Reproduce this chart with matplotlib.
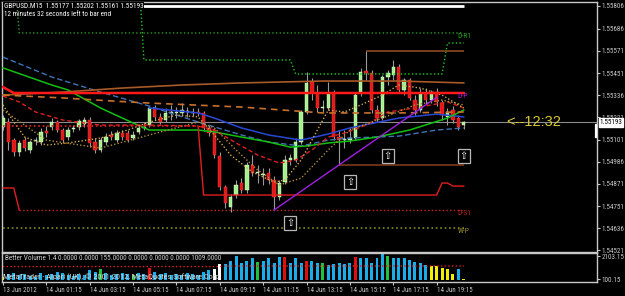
import matplotlib
matplotlib.use("Agg")
import matplotlib.pyplot as plt
from matplotlib import font_manager as fm
from matplotlib.transforms import blended_transform_factory


def pick(names):
    for n in names:
        try:
            fm.findfont(fm.FontProperties(family=n), fallback_to_default=False)
            return n
        except Exception:
            pass
    return 'DejaVu Sans'


NARROW = pick(['Liberation Sans Narrow', 'Roboto Condensed', 'DejaVu Sans Condensed',
               'Open Sans Condensed', 'Liberation Sans', 'DejaVu Sans'])
SANS = pick(['Liberation Sans', 'DejaVu Sans'])

# ---------------- data ----------------
symbol_title = "GBPUSD.M15  1.55177 1.55202 1.55161 1.55193"
timer_text = "12 minutes 32 seconds left to bar end"
volume_header = "Better Volume 1.4 0.0000 0.0000 155.0000 0.0000 0.0000 0.0000 1009.0000"
footer_text = "MetaTrader - Alpari (UK), \u00a9 2001-2012, MetaQuotes Software Corp."

opens = [
    1.55169, 1.55195, 1.55100, 1.55037, 1.55100, 1.55048, 1.55095, 1.55090, 1.55148, 1.55169,
    1.55195, 1.55153, 1.55116, 1.55158, 1.55169, 1.55185, 1.55206, 1.55090, 1.55048, 1.55090,
    1.55127, 1.55100, 1.55137, 1.55137, 1.55111, 1.55143, 1.55164, 1.55179, 1.55269, 1.55222,
    1.55206, 1.55243, 1.55243, 1.55243, 1.55248, 1.55243, 1.55248, 1.55243, 1.55164, 1.55153,
    1.55016, 1.54853, 1.54748, 1.54811, 1.54874, 1.54837, 1.54969, 1.54927, 1.54916, 1.54927,
    1.54890, 1.54800, 1.54879, 1.54995, 1.54995, 1.55090, 1.55248, 1.55406, 1.55348, 1.55269,
    1.55269, 1.55348, 1.55116, 1.55100, 1.55100, 1.55111, 1.55348, 1.55464, 1.55453, 1.55258,
    1.55216, 1.55432, 1.55443, 1.55485, 1.55364, 1.55416, 1.55311, 1.55258, 1.55348, 1.55311,
    1.55353, 1.55295, 1.55222, 1.55258, 1.55216, 1.55177]
closes = [
    1.55216, 1.55090, 1.55037, 1.55085, 1.55058, 1.55090, 1.55100, 1.55143, 1.55137, 1.55195,
    1.55153, 1.55100, 1.55153, 1.55164, 1.55200, 1.55206, 1.55085, 1.55048, 1.55100, 1.55116,
    1.55116, 1.55137, 1.55116, 1.55100, 1.55127, 1.55164, 1.55169, 1.55269, 1.55222, 1.55195,
    1.55243, 1.55248, 1.55248, 1.55258, 1.55253, 1.55248, 1.55243, 1.55164, 1.55137, 1.55021,
    1.54853, 1.54769, 1.54800, 1.54864, 1.54837, 1.54969, 1.54927, 1.54932, 1.54921, 1.54890,
    1.54800, 1.54874, 1.54995, 1.55006, 1.55090, 1.55248, 1.55401, 1.55348, 1.55269, 1.55274,
    1.55348, 1.55116, 1.55100, 1.55106, 1.55111, 1.55337, 1.55458, 1.55453, 1.55258, 1.55216,
    1.55432, 1.55453, 1.55485, 1.55364, 1.55416, 1.55322, 1.55258, 1.55348, 1.55311, 1.55348,
    1.55301, 1.55232, 1.55248, 1.55206, 1.55169, 1.55193]
highs = [
    1.55232, 1.55216, 1.55111, 1.55100, 1.55116, 1.55100, 1.55116, 1.55164, 1.55174, 1.55216,
    1.55206, 1.55164, 1.55169, 1.55179, 1.55211, 1.55222, 1.55222, 1.55111, 1.55116, 1.55137,
    1.55148, 1.55153, 1.55153, 1.55153, 1.55148, 1.55179, 1.55195, 1.55279, 1.55285, 1.55243,
    1.55269, 1.55285, 1.55274, 1.55295, 1.55274, 1.55269, 1.55269, 1.55253, 1.55179, 1.55164,
    1.55037, 1.54864, 1.54816, 1.54890, 1.54900, 1.54985, 1.55021, 1.54969, 1.54953, 1.54953,
    1.54911, 1.54890, 1.55021, 1.55027, 1.55111, 1.55258, 1.55458, 1.55427, 1.55390, 1.55311,
    1.55406, 1.55364, 1.55153, 1.55153, 1.55164, 1.55348, 1.55480, 1.55569, 1.55469, 1.55285,
    1.55443, 1.55469, 1.55522, 1.55501, 1.55427, 1.55427, 1.55337, 1.55374, 1.55374, 1.55364,
    1.55374, 1.55311, 1.55269, 1.55279, 1.55232, 1.55202]
lows = [
    1.55153, 1.55048, 1.55016, 1.55016, 1.55042, 1.55032, 1.55074, 1.55074, 1.55116, 1.55153,
    1.55143, 1.55085, 1.55100, 1.55143, 1.55153, 1.55169, 1.55063, 1.55032, 1.55037, 1.55074,
    1.55100, 1.55090, 1.55100, 1.55090, 1.55100, 1.55132, 1.55153, 1.55169, 1.55206, 1.55185,
    1.55195, 1.55206, 1.55216, 1.55227, 1.55222, 1.55227, 1.55227, 1.55148, 1.55121, 1.55006,
    1.54837, 1.54742, 1.54721, 1.54795, 1.54821, 1.54821, 1.54911, 1.54874, 1.54864, 1.54869,
    1.54732, 1.54784, 1.54869, 1.54969, 1.54985, 1.55079, 1.55237, 1.55311, 1.55248, 1.55248,
    1.55258, 1.55100, 1.54969, 1.55058, 1.55085, 1.55100, 1.55332, 1.55416, 1.55243, 1.55195,
    1.55206, 1.55390, 1.55416, 1.55348, 1.55337, 1.55311, 1.55232, 1.55248, 1.55290, 1.55295,
    1.55279, 1.55206, 1.55179, 1.55190, 1.55153, 1.55161]

volumes = [
    291, 577, 672, 481, 577, 386, 291, 672, 481, 577,
    768, 672, 481, 386, 577, 481, 863, 768, 958, 672,
    481, 577, 672, 577, 481, 672, 577, 1054, 768, 577,
    672, 481, 577, 481, 672, 577, 481, 768, 863, 958,
    1435, 1435, 1722, 2103, 1531, 1722, 1912, 1626, 1722, 1912,
    1531, 2008, 2008, 1531, 1912, 1531, 1722, 1722, 1531, 1531,
    1340, 1435, 1531, 1435, 1531, 2008, 1912, 1912, 1531, 1912,
    2294, 2103, 1912, 1912, 1912, 1817, 1626, 1531, 1340, 1245,
    1245, 1054, 958, 577, 958, 155]
vol_kind = ("YBBBBBBBBB" "BBBBBBBBGB" "BBBBGBBRBB" "BBBBBBBBBW"
            "WBBBBBBGBB" "BBRBBBRBBG" "BBBBBRBBBB" "BGBBBBBBBY"
            "YYYYBY")
vol_avg_bars = [0, 40, 41, 85]
vol_avg_vals = [1200, 1200, 1250, 1250]
vol_ticks = [2103.15, 100.15]

time_tick_bars = [0, 8, 16, 24, 32, 40, 48, 56, 64, 72, 80]
time_tick_labels = ["13 Jun 2012", "14 Jun 01:15", "14 Jun 03:15", "14 Jun 05:15",
                    "14 Jun 07:15", "14 Jun 09:15", "14 Jun 11:15", "14 Jun 13:15",
                    "14 Jun 15:15", "14 Jun 17:15", "14 Jun 19:15"]
price_ticks = [1.55806, 1.55686, 1.55571, 1.55451, 1.55336, 1.55221, 1.55101,
               1.54986, 1.54871, 1.54751, 1.54636, 1.54521]
current_price = 1.55193
spread_bar = (1.55179, 1.55116)
timer_label = "<--12:32"

# moving-average style lines (bar index, price)
blue_dash_b = [0, 9, 18, 27, 36, 44, 49, 55, 60, 64, 73, 80, 85]
blue_dash_v = [1.55537, 1.55432, 1.55353, 1.55279, 1.55195, 1.55127, 1.55090, 1.55069,
               1.55100, 1.55111, 1.55121, 1.55153, 1.55164]
blue_b = [27, 36, 39, 44, 49, 55, 60, 64, 73, 80, 85]
blue_v = [1.55269, 1.55243, 1.55216, 1.55164, 1.55127, 1.55100, 1.55132, 1.55164,
          1.55216, 1.55237, 1.55222]
green_b = [0, 9, 12, 18, 24, 27, 36, 39, 44, 49, 53, 56, 60, 64, 69, 75, 82, 85]
green_v = [1.55480, 1.55390, 1.55364, 1.55269, 1.55190, 1.55153, 1.55153, 1.55143, 1.55116,
           1.55090, 1.55063, 1.55069, 1.55085, 1.55095, 1.55116, 1.55153, 1.55216, 1.55258]
red_dash_b = [0, 3, 6, 11, 18, 27, 36, 39, 43, 47, 51, 54, 57, 60, 63, 67, 71, 76, 82, 85]
red_dash_v = [1.55332, 1.55301, 1.55248, 1.55206, 1.55179, 1.55179, 1.55174, 1.55153, 1.55085,
              1.55021, 1.54979, 1.54995, 1.55048, 1.55116, 1.55137, 1.55179, 1.55248, 1.55269,
              1.55301, 1.55269]
brown_b = [0, 11, 22, 33, 44, 59, 73, 85]
brown_v = [1.55337, 1.55353, 1.55374, 1.55390, 1.55401, 1.55411, 1.55411, 1.55401]
brown_dash_b = [0, 11, 20, 27, 44, 59, 73, 85]
brown_dash_v = [1.55337, 1.55322, 1.55306, 1.55295, 1.55274, 1.55243, 1.55243, 1.55248]
tan1_b = [0, 2, 4, 8, 12, 18, 23, 27, 32, 36, 39, 42, 46, 50, 52, 55, 58, 60, 63, 66,
          70, 73, 77, 81, 85]
tan1_v = [1.55285, 1.55195, 1.55116, 1.55074, 1.55085, 1.55111, 1.55153, 1.55195, 1.55232,
          1.55222, 1.55127, 1.55021, 1.54932, 1.54879, 1.54890, 1.54995, 1.55153, 1.55258,
          1.55248, 1.55285, 1.55337, 1.55390, 1.55374, 1.55337, 1.55269]
tan2_b = [0, 8, 18, 27, 36, 39, 43, 47, 51, 55, 60, 64, 70, 76, 81, 85]
tan2_v = [1.55258, 1.55100, 1.55058, 1.55127, 1.55195, 1.55164, 1.55048, 1.54942, 1.54864,
          1.54900, 1.55048, 1.55153, 1.55216, 1.55285, 1.55311, 1.55285]

# level lines
white_level = 1.55806
dr1_b = [0, 2, 3, 85]
dr1_v = [1.5600, 1.5600, 1.55664, 1.55664]
step_b = [0, 25, 26, 53, 54, 81, 82, 85]
step_v = [1.5600, 1.5600, 1.55522, 1.55522, 1.55448, 1.55448, 1.55611, 1.55611]
dp_b = [0, 2, 85]
dp_v = [1.55379, 1.55348, 1.55348]
s_a_b = [0, 36, 37, 80, 81, 82, 83, 85]
s_a_v = [1.55174, 1.55174, 1.54811, 1.54811, 1.54874, 1.54874, 1.54858, 1.54858]
ds1_b = [0, 2, 3, 85]
ds1_v = [1.54848, 1.54848, 1.54732, 1.54732]
high_level = (67, 1.55569)
low_level = (62, 1.54969)
wp_level = 1.54637
trend_b = [50, 80]
trend_v = [1.54732, 1.55325]
arrow_b = [53, 64, 71, 85]
arrow_v = [1.54663, 1.54879, 1.55016, 1.55016]
level_labels = ['D-R1', 'D-P', 'D-S1', 'W-P']
level_label_prices = [1.55664, 1.55348, 1.54732, 1.54637]

# ---------------- figure ----------------
W, H = 625, 296
fig = plt.figure(figsize=(W / 100, H / 100), dpi=100, facecolor='black')
renderer = fig.canvas.get_renderer()


def fit_size(text, family, target_px, base=10.0):
    t = fig.text(0, 0, text, fontsize=base, family=family)
    w = t.get_window_extent(renderer).width
    t.remove()
    return base * target_px / w


ax = fig.add_axes([2 / W, 44 / H, 595 / W, 250 / H])
axv = fig.add_axes([2 / W, 14 / H, 595 / W, 29 / H])
XL = (-0.185, 109.59)
for a in (ax, axv):
    a.set_facecolor('black')
    a.set_xlim(*XL)
    for s in a.spines.values():
        s.set_color('#c8c8c8')
        s.set_linewidth(1.0)
ax.set_ylim(1.54511, 1.55827)
axv.set_ylim(-150, 2389)

n = len(opens)
xs = list(range(n))

# candles
for i in xs:
    o, c, h, l = opens[i], closes[i], highs[i], lows[i]
    up = c >= o
    ax.vlines(i, l, h, color='#9a9a9a', lw=0.8, zorder=2)
    body = abs(c - o)
    if body < 0.00003:
        ax.hlines((o + c) / 2, i - 0.35, i + 0.35, color='#c8f0b0' if up else '#e01818',
                  lw=1.0, zorder=3)
    else:
        ax.bar(i, body, bottom=min(o, c), width=0.62,
               color='#a6f08c' if up else '#e01818',
               edgecolor='#e8ffe0' if up else '#ff4040', lw=0.3, zorder=3)

# indicator lines
ax.plot(blue_dash_b, blue_dash_v, color='#3f74b8', lw=1.0, ls=(0, (4, 2)), zorder=4)
ax.plot(blue_b, blue_v, color='#2a48d8', lw=1.1, zorder=4)
ax.plot(green_b, green_v, color='#12c012', lw=1.1, zorder=4)
ax.plot(red_dash_b, red_dash_v, color='#e02020', lw=1.0, ls=(0, (3, 2)), zorder=4)
ax.plot(brown_b, brown_v, color='#a85a28', lw=1.2, zorder=4)
ax.plot(brown_dash_b, brown_dash_v, color='#c8702c', lw=1.2, ls=(0, (4, 3)), zorder=4)
ax.plot(tan1_b, tan1_v, color='#d0a850', lw=1.0, ls=(0, (1, 1.5)), zorder=4)
ax.plot(tan2_b, tan2_v, color='#b08a3c', lw=1.0, ls=(0, (1, 1.5)), zorder=4)

# level lines
ax.hlines(white_level, 0, n - 1, color='white', lw=2.0, zorder=5)
ax.plot(dr1_b, dr1_v, color='#2a9a2a', lw=1.0, ls=':', zorder=4)
ax.plot(step_b, step_v, color='#22cc22', lw=1.0, ls=':', zorder=4)
ax.plot(dp_b, dp_v, color='#a020f0', lw=1.0, zorder=4)
ax.plot(dp_b, dp_v, color='#ff1818', lw=1.8, zorder=4)
ax.plot(s_a_b[:2], s_a_v[:2], color='#e02020', lw=1.2, ls=':', zorder=4)
ax.plot(s_a_b[1:], s_a_v[1:], color='#e02020', lw=1.0, zorder=4)
ax.plot(ds1_b[:3], ds1_v[:3], color='#e02020', lw=1.0, zorder=4)
ax.plot(ds1_b[2:], ds1_v[2:], color='#d02020', lw=1.0, ls=':', zorder=4)
ax.hlines(high_level[1], high_level[0], n - 1, color='#8a4a22', lw=1.2, zorder=4)
ax.hlines(low_level[1], low_level[0], n - 1, color='#7a3a1a', lw=1.2, zorder=4)
ax.hlines(wp_level, 0, n - 1, color='#8a8a20', lw=1.2, ls=':', zorder=4)
ax.plot(trend_b, trend_v, color='#a020e0', lw=1.0, zorder=4)
ax.axhline(current_price, color='#8c8c8c', lw=0.8, zorder=1)

# level labels
lab_fs = fit_size('D-R1', NARROW, 14)
lab_colors = ['#20a020', '#b020e0', '#c02020', '#9a9030']
for txt, pr, col in zip(level_labels, level_label_prices, lab_colors):
    ax.text(83.9, pr, txt, color=col, fontsize=lab_fs, family=NARROW,
            va='top', ha='left', zorder=8)

# arrow boxes
for b, v in zip(arrow_b, arrow_v):
    ax.text(b, v, '\u21e7', color='white', fontsize=7, family='DejaVu Sans',
            ha='center', va='center', zorder=7,
            bbox=dict(boxstyle='square,pad=0.2', fc='black', ec='#b8b8b8', lw=0.9))

# timer
ax.text(92.8, current_price, timer_label, color='#d8c830',
        fontsize=fit_size(timer_label, SANS, 55), family=SANS,
        ha='left', va='center', zorder=7)

# right price axis
price_fs = fit_size('1.55806', NARROW, 23)
ax.yaxis.tick_right()
ax.set_yticks(price_ticks)
ax.set_yticklabels([f"{p:.5f}" for p in price_ticks])
ax.tick_params(axis='y', colors='#c8c8c8', labelsize=price_fs, length=2, width=0.8, pad=1.2)
for t in ax.get_yticklabels():
    t.set_family(NARROW)
ax.set_xticks([])
bt = blended_transform_factory(ax.transAxes, ax.transData)
ax.plot([0.9985, 0.9985], spread_bar, transform=bt, color='white', lw=1.6, zorder=6,
        clip_on=False)
ax.text(1.004, current_price, f"{current_price:.5f}", transform=bt, color='black',
        fontsize=price_fs, family=NARROW, ha='left', va='center', zorder=8,
        bbox=dict(boxstyle='square,pad=0.12', fc='white', ec='white'), clip_on=False)

# volume panel
colmap = {'B': '#18aeea', 'R': '#e01010', 'G': '#20c040', 'Y': '#f0f000', 'W': '#ffffff'}
axv.bar(xs, volumes, width=0.55, color=[colmap[k] for k in vol_kind], zorder=2)
axv.plot(vol_avg_bars, vol_avg_vals, color='#e02020', lw=1.0, ls=':', zorder=3)
axv.yaxis.tick_right()
axv.set_yticks(vol_ticks)
axv.set_yticklabels([f"{v:.2f}" for v in vol_ticks])
axv.tick_params(axis='y', colors='#c8c8c8', labelsize=price_fs, length=2, pad=1.2)
for t in axv.get_yticklabels():
    t.set_family(NARROW)
time_fs = fit_size('14 Jun 01:15', NARROW, 35)
axv.set_xticks(time_tick_bars)
axv.set_xticklabels(time_tick_labels)
axv.tick_params(axis='x', colors='#c8c8c8', labelsize=time_fs, length=2.5, width=0.8, pad=1)
for t in axv.get_xticklabels():
    t.set_family(NARROW)
    t.set_ha('left')

axv.text(0.005, 0.82, volume_header, transform=axv.transAxes, color='#c8c8c8',
         fontsize=fit_size(volume_header, NARROW, 217), family=NARROW,
         ha='left', va='center', zorder=5)
axv.text(0.002, 0.16, footer_text, transform=axv.transAxes, color='#d8d8d8',
         fontsize=fit_size(footer_text, NARROW, 219), family=NARROW,
         ha='left', va='center', zorder=5)

# titles
fig.text(4 / W, 1 - 6 / H, symbol_title, color='white',
         fontsize=fit_size(symbol_title, NARROW, 141), family=NARROW,
         ha='left', va='center', zorder=10,
         bbox=dict(boxstyle='square,pad=0.1', fc='black', ec='none'))
fig.text(4 / W, 1 - 14.5 / H, timer_text, color='white',
         fontsize=fit_size(timer_text, NARROW, 105), family=NARROW,
         ha='left', va='center', zorder=10)

fig.savefig('out.png', dpi=100, facecolor='black')
